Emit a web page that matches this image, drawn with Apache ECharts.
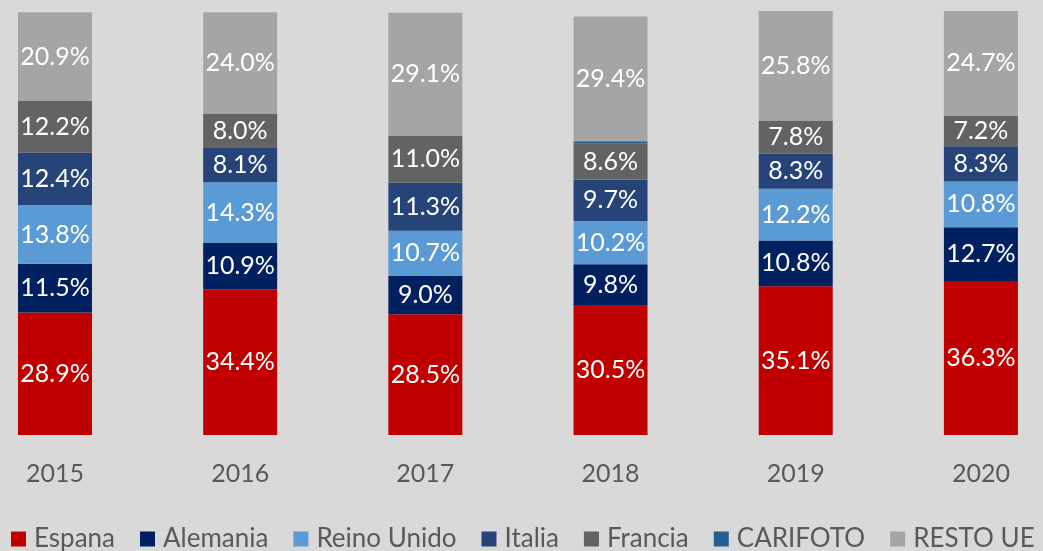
<!DOCTYPE html>
<html>
<head>
<meta charset="utf-8">
<script src="https://cdn.jsdelivr.net/npm/echarts@6/dist/echarts.min.js"></script>
<style>
  html, body { margin: 0; padding: 0; background: #d9d9d9; }
  #chart { width: 1043px; height: 551px; }
</style>
</head>
<body>
<div id="chart"></div>
<script>
const years = ['2015', '2016', '2017', '2018', '2019', '2020']

const espana = [28.9, 34.4, 28.5, 30.5, 35.1, 36.3]
const alemania = [11.5, 10.9, 9.0, 9.8, 10.8, 12.7]
const reinoUnido = [13.8, 14.3, 10.7, 10.2, 12.2, 10.8]
const italia = [12.4, 8.1, 11.3, 9.7, 8.3, 8.3]
const francia = [12.2, 8.0, 11.0, 8.6, 7.8, 7.2]
const carifoto = [0, 0, 0, 0.5, 0, 0]
const restoUe = [20.9, 24.0, 29.1, 29.4, 25.8, 24.7]

const FONT = 'Lato'
const GREY_TEXT = '#595959'

// name, values, colour, show label
const seriesDefs = [
  ['Espana', espana, '#c00000', true],
  ['Alemania', alemania, '#002060', true],
  ['Reino Unido', reinoUnido, '#5b9bd5', true],
  ['Italia', italia, '#264478', true],
  ['Francia', francia, '#636363', true],
  ['CARIFOTO', carifoto, '#255e91', false],
  ['RESTO UE', restoUe, '#a5a5a5', true]
]

const chart = echarts.init(document.getElementById('chart'))

chart.setOption({
  backgroundColor: '#d9d9d9',
  animation: false,
  grid: {
    left: -37.6,
    right: -30.5,
    top: 11,
    bottom: 116,
    outerBoundsMode: 'none'
  },
  legend: {
    data: seriesDefs.map(d => d[0]),
    left: 6,
    top: 521,
    icon: 'rect',
    itemWidth: 15,
    itemHeight: 15,
    itemGap: 25,
    textStyle: {
      fontFamily: FONT,
      fontSize: 26,
      color: GREY_TEXT,
      padding: [0, 0, 0, 3]
    }
  },
  xAxis: {
    type: 'category',
    data: years,
    axisLine: { show: false },
    axisTick: { show: false },
    axisLabel: {
      fontFamily: FONT,
      fontSize: 25,
      color: GREY_TEXT,
      margin: 26
    }
  },
  yAxis: {
    type: 'value',
    min: 0,
    max: 100,
    show: false,
    splitLine: { show: false }
  },
  series: seriesDefs.map(([name, values, color, showLabel]) => ({
    name,
    type: 'bar',
    stack: 'total',
    barWidth: 74,
    data: values,
    itemStyle: { color },
    label: {
      show: showLabel,
      position: 'inside',
      color: '#ffffff',
      fontFamily: FONT,
      fontSize: 25,
      formatter: p => p.value.toFixed(1) + '%'
    }
  }))
})
</script>
</body>
</html>
